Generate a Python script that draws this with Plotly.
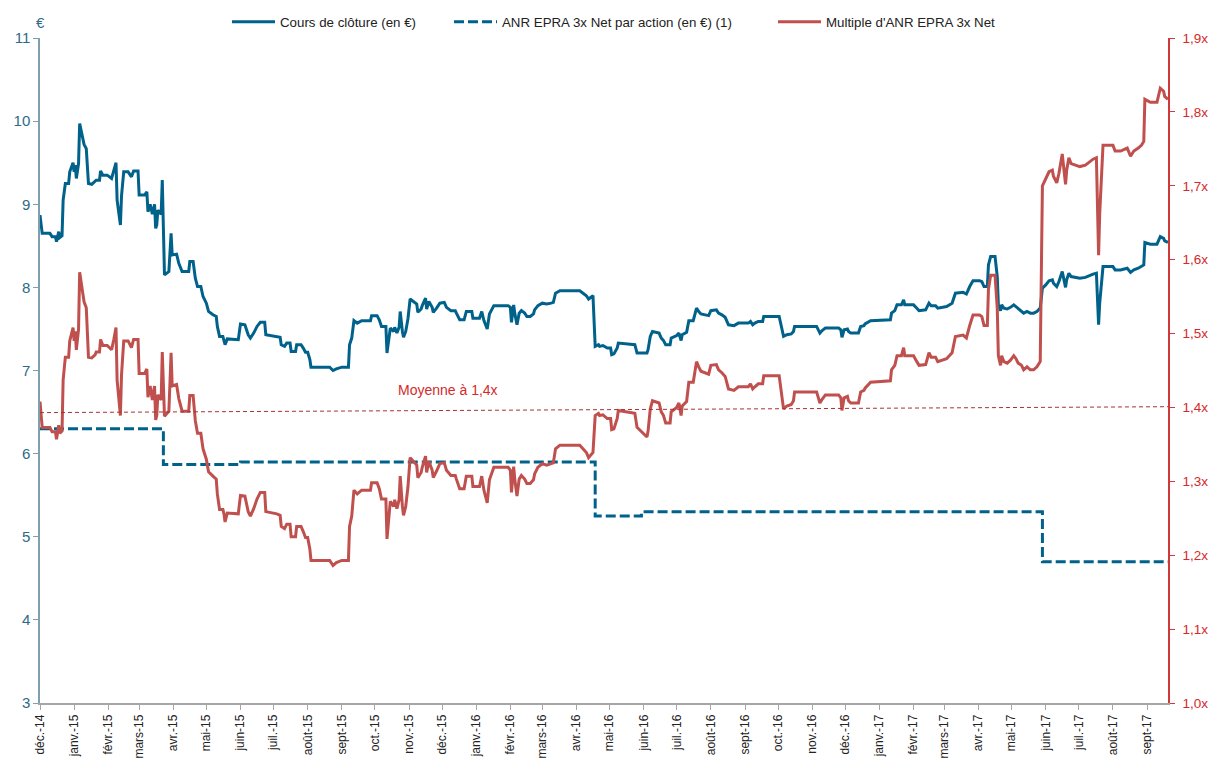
import pandas as pd
import plotly.graph_objects as go

start = pd.Timestamp("2014-12-01")

# days since 2014-12-01
day_offsets = [
    0, 2, 9, 11, 14, 15, 17, 18, 20, 21, 23, 26, 27, 30, 31, 32, 33, 35, 36, 39,
    40, 42, 43, 44, 47, 50, 51, 54, 55, 57, 61, 65, 67, 69, 70, 71, 73, 74, 76, 80,
    83, 85, 89, 90, 95, 97, 98, 100, 102, 104, 105, 106, 107, 110, 111,
    113, 115, 117, 119, 120, 124, 126, 129, 135, 136, 139, 141, 143, 146, 148, 151, 153, 157, 160, 161,
    163, 166, 167, 168, 170, 180,
    182, 186, 189, 191, 194, 197, 200, 204, 205, 215, 218, 219, 222, 224, 227, 228, 232, 233, 237, 239,
    241, 243, 245, 246, 263, 266, 269, 274, 280, 281, 283, 285, 288, 292, 300, 301, 306, 308, 310, 314,
    315, 318, 321, 322, 324, 326, 327, 329, 330, 332, 334, 336, 339, 342, 343, 346, 347, 350, 351, 353,
    356, 357, 360, 363, 367, 369, 373, 377, 378, 381, 385, 387, 392, 393, 399, 401, 403, 406, 408, 412,
    425, 427, 428, 430, 431, 433, 435, 437, 440, 442, 445, 448, 449, 452, 456, 460, 464, 466, 468, 472,
    490, 493, 496, 498, 502,
    504, 507, 508, 511, 515, 518, 519, 521, 524, 525, 540, 542,
    551, 552, 554, 556, 562, 564, 566, 568, 572, 573, 578, 580, 582, 583, 587, 589, 593, 596, 598, 600,
    607, 609, 614, 616, 619, 622, 625, 630, 634, 643, 645, 647, 649, 652, 656, 657, 671, 673, 675, 678,
    682, 684, 685, 705, 708, 710, 713, 725, 727, 728, 730, 733, 734, 736, 743, 745, 748, 749, 754, 772,
    773, 776, 778, 782, 784, 785, 793, 796, 798, 804, 807, 809, 813, 815, 823, 828, 831, 838, 841, 844,
    847, 853, 855, 857, 860, 861, 863, 867, 869, 870, 872, 873, 875, 878, 881, 884, 886, 888, 891, 893,
    896, 899, 902, 905, 908,
    910, 913, 916, 919, 920, 923, 925, 928, 929, 931, 932, 934, 936, 944, 949, 952, 956, 959, 961, 962,
    965, 974, 976, 981, 987, 990, 993, 997, 1000, 1002, 1003, 1008, 1014, 1017, 1020, 1021, 1024,
]

cours = [
    8.87, 8.65, 8.65, 8.61, 8.61, 8.55, 8.67, 8.60, 8.62, 9.05, 9.25, 9.25, 9.39, 9.50, 9.39, 9.47, 9.31, 9.49, 9.97, 9.81,
    9.72, 9.67, 9.51, 9.25, 9.24, 9.27, 9.29, 9.29, 9.40, 9.35, 9.35, 9.31, 9.40, 9.50, 9.05, 8.93, 8.75, 9.10, 9.39, 9.39,
    9.33, 9.40, 9.40, 9.11, 9.11, 9.15, 8.91, 9.00, 8.88, 9.00, 8.71, 8.75, 8.93, 8.88, 9.29,
    8.15, 8.17, 8.19, 8.65, 8.39, 8.40, 8.29, 8.19, 8.19, 8.31, 8.31, 8.11, 8.01, 8.01, 7.89, 7.81, 7.71, 7.67, 7.65, 7.53,
    7.41, 7.41, 7.37, 7.31, 7.38, 7.37,
    7.56, 7.55, 7.43, 7.39, 7.45, 7.53, 7.58, 7.58, 7.43, 7.41, 7.40, 7.31, 7.29, 7.33, 7.33, 7.23, 7.23, 7.31, 7.31, 7.27,
    7.22, 7.22, 7.13, 7.04, 7.04, 7.00, 7.02, 7.04, 7.04, 7.31, 7.39, 7.60, 7.57, 7.60, 7.60, 7.66, 7.66, 7.61, 7.53, 7.53,
    7.21, 7.51, 7.47, 7.52, 7.45, 7.52, 7.71, 7.47, 7.40, 7.47, 7.62, 7.86, 7.83, 7.80, 7.70, 7.74, 7.78, 7.87, 7.74, 7.83,
    7.76, 7.70, 7.75, 7.81, 7.82, 7.76, 7.72, 7.72, 7.69, 7.61, 7.61, 7.71, 7.71, 7.63, 7.63, 7.71, 7.60, 7.50, 7.68, 7.78,
    7.78, 7.76, 7.58, 7.79, 7.69, 7.55, 7.69, 7.72, 7.69, 7.65, 7.65, 7.68, 7.73, 7.78, 7.81, 7.80, 7.81, 7.82, 7.93, 7.96,
    7.96, 7.93, 7.90, 7.86, 7.90,
    7.29, 7.31, 7.29, 7.30, 7.27, 7.27, 7.19, 7.20, 7.27, 7.33, 7.31, 7.21,
    7.21, 7.25, 7.41, 7.47, 7.45, 7.39, 7.36, 7.31, 7.31, 7.39, 7.42, 7.45, 7.36, 7.43, 7.46, 7.60, 7.60, 7.75, 7.71, 7.68,
    7.66, 7.72, 7.73, 7.69, 7.67, 7.64, 7.55, 7.54, 7.57, 7.57, 7.59, 7.55, 7.57, 7.59, 7.59, 7.65, 7.65, 7.52, 7.41, 7.43,
    7.44, 7.47, 7.53, 7.53, 7.45, 7.48, 7.51, 7.51, 7.49, 7.40, 7.49, 7.50, 7.47, 7.45, 7.45, 7.53, 7.54, 7.56, 7.60, 7.61,
    7.69, 7.72, 7.79, 7.79, 7.85, 7.79, 7.79, 7.75, 7.72, 7.73, 7.81, 7.78, 7.78, 7.75, 7.77, 7.81, 7.93, 7.94, 7.92, 8.01,
    8.08, 8.08, 8.07, 8.01, 8.01, 8.27, 8.37, 8.37, 8.13, 7.79, 7.72, 7.79, 7.75, 7.74, 7.76, 7.79, 7.77, 7.74, 7.72, 7.69,
    7.71, 7.69, 7.69, 7.71, 7.75,
    7.99, 8.03, 8.08, 8.09, 8.05, 8.01, 8.07, 8.19, 8.13, 8.00, 8.09, 8.17, 8.13, 8.11, 8.12, 8.14, 8.16, 8.17, 7.55, 7.81,
    8.25, 8.25, 8.21, 8.21, 8.23, 8.18, 8.21, 8.23, 8.25, 8.27, 8.54, 8.52, 8.52, 8.61, 8.59, 8.56, 8.54,
]

multiple = [
    1.408, 1.373, 1.373, 1.367, 1.367, 1.357, 1.376, 1.365, 1.368, 1.437, 1.468, 1.468, 1.490, 1.508, 1.490, 1.503, 1.478, 1.506, 1.583, 1.557,
    1.543, 1.535, 1.510, 1.468, 1.467, 1.471, 1.475, 1.475, 1.492, 1.484, 1.484, 1.478, 1.492, 1.508, 1.437, 1.417, 1.389, 1.444, 1.490, 1.490,
    1.481, 1.492, 1.492, 1.446, 1.446, 1.452, 1.414, 1.429, 1.410, 1.429, 1.383, 1.389, 1.417, 1.410, 1.475,
    1.388, 1.392, 1.395, 1.474, 1.429, 1.431, 1.412, 1.395, 1.395, 1.416, 1.416, 1.382, 1.365, 1.365, 1.344, 1.330, 1.313, 1.307, 1.303, 1.283,
    1.262, 1.262, 1.256, 1.245, 1.257, 1.256,
    1.281, 1.280, 1.259, 1.253, 1.263, 1.276, 1.285, 1.285, 1.259, 1.256, 1.254, 1.239, 1.236, 1.242, 1.242, 1.225, 1.225, 1.239, 1.239, 1.232,
    1.224, 1.224, 1.208, 1.193, 1.193, 1.186, 1.190, 1.193, 1.193, 1.239, 1.253, 1.288, 1.283, 1.288, 1.288, 1.298, 1.298, 1.290, 1.276, 1.276,
    1.222, 1.273, 1.266, 1.275, 1.263, 1.275, 1.307, 1.266, 1.254, 1.266, 1.292, 1.332, 1.327, 1.322, 1.305, 1.312, 1.319, 1.334, 1.312, 1.327,
    1.315, 1.305, 1.314, 1.324, 1.325, 1.315, 1.308, 1.308, 1.303, 1.290, 1.290, 1.307, 1.307, 1.293, 1.293, 1.307, 1.288, 1.271, 1.302, 1.319,
    1.319, 1.315, 1.285, 1.320, 1.303, 1.280, 1.303, 1.308, 1.303, 1.297, 1.297, 1.302, 1.310, 1.319, 1.324, 1.322, 1.324, 1.325, 1.344, 1.349,
    1.349, 1.344, 1.339, 1.332, 1.339,
    1.389, 1.392, 1.389, 1.390, 1.385, 1.385, 1.370, 1.371, 1.385, 1.396, 1.392, 1.373,
    1.360, 1.368, 1.398, 1.409, 1.406, 1.394, 1.389, 1.379, 1.379, 1.394, 1.400, 1.406, 1.389, 1.402, 1.408, 1.434, 1.434, 1.462, 1.455, 1.449,
    1.445, 1.457, 1.458, 1.451, 1.447, 1.442, 1.425, 1.423, 1.428, 1.428, 1.432, 1.425, 1.428, 1.432, 1.432, 1.443, 1.443, 1.419, 1.398, 1.402,
    1.404, 1.409, 1.421, 1.421, 1.406, 1.411, 1.417, 1.417, 1.413, 1.396, 1.413, 1.415, 1.409, 1.406, 1.406, 1.421, 1.423, 1.426, 1.434, 1.436,
    1.451, 1.457, 1.470, 1.470, 1.481, 1.470, 1.470, 1.462, 1.457, 1.458, 1.474, 1.468, 1.468, 1.462, 1.466, 1.474, 1.496, 1.498, 1.494, 1.511,
    1.525, 1.525, 1.523, 1.511, 1.511, 1.560, 1.579, 1.579, 1.534, 1.470, 1.457, 1.470, 1.462, 1.460, 1.464, 1.470, 1.466, 1.460, 1.457, 1.451,
    1.455, 1.451, 1.451, 1.455, 1.462,
    1.700, 1.709, 1.719, 1.721, 1.713, 1.704, 1.717, 1.743, 1.730, 1.702, 1.721, 1.738, 1.730, 1.726, 1.728, 1.732, 1.736, 1.738, 1.606, 1.662,
    1.755, 1.755, 1.747, 1.747, 1.751, 1.740, 1.747, 1.751, 1.755, 1.760, 1.817, 1.813, 1.813, 1.832, 1.828, 1.821, 1.817,
]

anr_days = [0, 112, 182, 504, 546, 910, 1024]
anr_values = [6.30, 5.87, 5.90, 5.25, 5.30, 4.70, 4.70]

moyenne_days = [0, 1024]
moyenne_values = [1.393, 1.401]

month_labels = [
    "déc.-14", "janv.-15", "févr.-15", "mars-15", "avr.-15", "mai-15", "juin-15", "juil.-15",
    "août-15", "sept-15", "oct.-15", "nov.-15", "déc.-15", "janv.-16", "févr.-16", "mars-16",
    "avr.-16", "mai-16", "juin-16", "juil.-16", "août-16", "sept-16", "oct.-16", "nov.-16",
    "déc.-16", "janv.-17", "févr.-17", "mars-17", "avr.-17", "mai-17", "juin-17", "juil.-17",
    "août-17", "sept-17",
]

BLUE = "#00628B"
RED = "#C0504D"
AXIS_RED = "#D0393A"
LABEL_RED = "#D42A2A"
LABEL_BLUE = "#2C6A87"
FONT = "Liberation Sans, Arial, sans-serif"
NARROW = "Liberation Sans Narrow, Arial Narrow, Liberation Sans, Arial, sans-serif"


def to_dates(days):
    return [start + pd.Timedelta(days=d) for d in days]


month_ticks = list(pd.date_range(start, periods=len(month_labels), freq="MS"))
end = start + pd.Timedelta(days=1024)

fig = go.Figure()
fig.add_trace(go.Scatter(
    x=to_dates(day_offsets), y=cours, mode="lines", name="Cours de clôture (en €)",
    line=dict(color=BLUE, width=3), legend="legend",
))
fig.add_trace(go.Scatter(
    x=to_dates(anr_days), y=anr_values, mode="lines", name="ANR EPRA 3x Net par action (en €) (1)",
    line=dict(color=BLUE, width=3, dash="10px,4px", shape="hv"), legend="legend2",
))
fig.add_trace(go.Scatter(
    x=to_dates(day_offsets), y=multiple, mode="lines", name="Multiple d'ANR EPRA 3x Net",
    line=dict(color=RED, width=3), yaxis="y2", legend="legend3",
))
fig.add_trace(go.Scatter(
    x=to_dates(moyenne_days), y=moyenne_values, mode="lines", showlegend=False,
    line=dict(color="#A83232", width=1, dash="4px,3px"), yaxis="y2",
))

fig.add_annotation(
    x=start + pd.Timedelta(days=370), y=1.424, xref="x", yref="y2",
    text="Moyenne à 1,4x", showarrow=False, font=dict(color=LABEL_RED, size=14, family=FONT),
)
fig.add_annotation(
    x=0, y=1.024, xref="paper", yref="paper", text="€", showarrow=False,
    xanchor="center", yanchor="middle", font=dict(color=LABEL_BLUE, size=15, family=FONT),
)

legend_common = dict(
    orientation="h", xref="container", yref="container", yanchor="middle", y=0.971,
    xanchor="left", itemwidth=43, borderwidth=0,
    bgcolor="rgba(0,0,0,0)", font=dict(family=FONT, size=13.3, color="#222222"),
)
fig.update_layout(
    width=1210, height=760,
    margin=dict(l=40, r=42, t=38, b=57, autoexpand=False),
    plot_bgcolor="white", paper_bgcolor="white",
    font=dict(family=FONT, size=14, color="#222222"),
    separators=", ",
    legend=dict(x=227 / 1210, **legend_common),
    legend2=dict(x=449 / 1210, **legend_common),
    legend3=dict(x=773 / 1210, **legend_common),
    xaxis=dict(
        type="date", range=[start, end], tickmode="array", tickvals=month_ticks, ticktext=month_labels,
        tickangle=-90, ticks="outside", ticklen=5, tickcolor="#A6A6A6", showline=True,
        linecolor="#A6A6A6", linewidth=1.5, showgrid=False, zeroline=False, automargin=False,
        tickfont=dict(family=NARROW, size=12, color="#222222"),
    ),
    yaxis=dict(
        range=[3, 11], dtick=1, ticks="outside", ticklen=5, tickcolor="#7F9EAE", showline=True,
        linecolor="#7F9EAE", linewidth=1.5, showgrid=False, zeroline=False, automargin=False,
        tickfont=dict(family=FONT, size=15, color=LABEL_BLUE),
    ),
    yaxis2=dict(
        range=[1.0, 1.9], dtick=0.1, tickformat=".1f", ticksuffix="x", overlaying="y", side="right",
        ticks="outside", ticklen=5, tickcolor=AXIS_RED, showline=True, linecolor=AXIS_RED, linewidth=1.5,
        showgrid=False, zeroline=False, automargin=False, ticklabelstandoff=5,
        tickfont=dict(family=FONT, size=13.5, color=LABEL_RED),
    ),
)

fig.write_html("out.html", config={"displayModeBar": False},
               post_script="document.body.style.margin='0';")
